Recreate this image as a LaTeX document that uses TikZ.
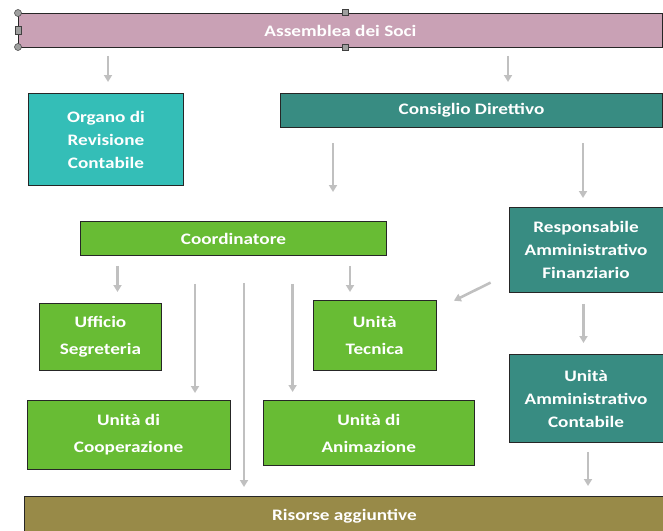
\documentclass[tikz,border=0pt]{standalone}
\usepackage{fontspec}
\usepackage{tikz}
\usetikzlibrary{arrows.meta}
\newfontfamily\orgfont[FakeStretch=1.2]{Carlito}
\definecolor{soci}{RGB}{201,161,181}
\definecolor{orgteal}{RGB}{52,190,183}
\definecolor{consteal}{RGB}{56,140,130}
\definecolor{unitgreen}{RGB}{104,188,52}
\definecolor{risorse}{RGB}{152,138,72}
\definecolor{arrowgray}{RGB}{192,192,192}
\tikzset{
	unit/.style={draw=black!85, line width=0.9pt, text=white, align=center, inner sep=0pt, anchor=north west,
		font=\orgfont\bfseries\fontsize{16}{23}\selectfont},
	loose/.style={font=\orgfont\bfseries\fontsize{16}{27}\selectfont},
	arr/.style={draw=arrowgray, line width=2.6pt, -{Triangle[width=8pt,length=7pt]}},
	handle/.style={fill=gray!75, draw=gray!50!black, line width=0.5pt}
}
\begin{document}
\begin{tikzpicture}[x=1pt,y=-1pt]
			\useasboundingbox (0,0) rectangle (663,530);
			% organi
			\node[unit, fill=soci, minimum width=644, minimum height=34] (soci) at (18,13) {Assemblea dei Soci};
			\node[unit, fill=orgteal, minimum width=155, minimum height=92] (org) at (28,93) {Organo di\\Revisione\\Contabile};
			\node[unit, fill=consteal, minimum width=382, minimum height=33.5] (cons) at (280,93) {Consiglio Direttivo};
			\node[unit, fill=unitgreen, minimum width=306, minimum height=34] (coord) at (80,221) {Coordinatore};
			\node[unit, fill=consteal, minimum width=154, minimum height=85] (resp) at (508.6,207) {Responsabile\\Amministrativo\\Finanziario};
			\node[unit, loose, fill=unitgreen, minimum width=122, minimum height=67] (uff) at (39,303) {Ufficio\\Segreteria};
			\node[unit, loose, fill=unitgreen, minimum width=122.5, minimum height=70] (tec) at (313,300) {Unità\\Tecnica};
			\node[unit, loose, fill=unitgreen, minimum width=203, minimum height=68.7] (coop) at (26.6,400) {Unità di\\Cooperazione};
			\node[unit, loose, fill=unitgreen, minimum width=210.6, minimum height=65] (anim) at (263,400) {Unità di\\Animazione};
			\node[unit, fill=consteal, minimum width=154, minimum height=88] (uamm) at (508.6,354) {Unità\\Amministrativo\\Contabile};
			\node[unit, fill=risorse, minimum width=640, minimum height=40] (ris) at (24,496) {Risorse aggiuntive};
			% maniglie di selezione
			\draw[handle] (18,13) circle (3.5);
			\draw[handle] (18,47) circle (3.5);
			\draw[handle] (15,26) rectangle (21,34);
			\draw[handle] (342,9) rectangle (348,15);
			\draw[handle] (342,44) rectangle (348,50);
			% frecce
			\foreach \s/\t/\x/\u/\v in { soci/org/108/8pt/11pt, soci/cons/508/8pt/11pt, cons/coord/333/16pt/29pt,
				cons/resp/583/16pt/9pt, coord/uff/117.5/10pt/11pt, coord/tec/350/10pt/8pt,
				coord/coop/195/28pt/7pt, coord/ris/244/27pt/9pt, coord/anim/292.6/28pt/8pt,
				resp/uamm/583.5/11pt/11pt, uamm/ris/588/9pt/10pt }
			\draw[arr, shorten <=\u, shorten >=\v] (\s.south -| \x,0) -- (\t.north -| \x,0);
			\draw[arr] ([shift={(-18,-10.3)}]resp.south west) -- ([shift={(17.5,0.7)}]tec.north east);
	\end{tikzpicture}
\end{document}
